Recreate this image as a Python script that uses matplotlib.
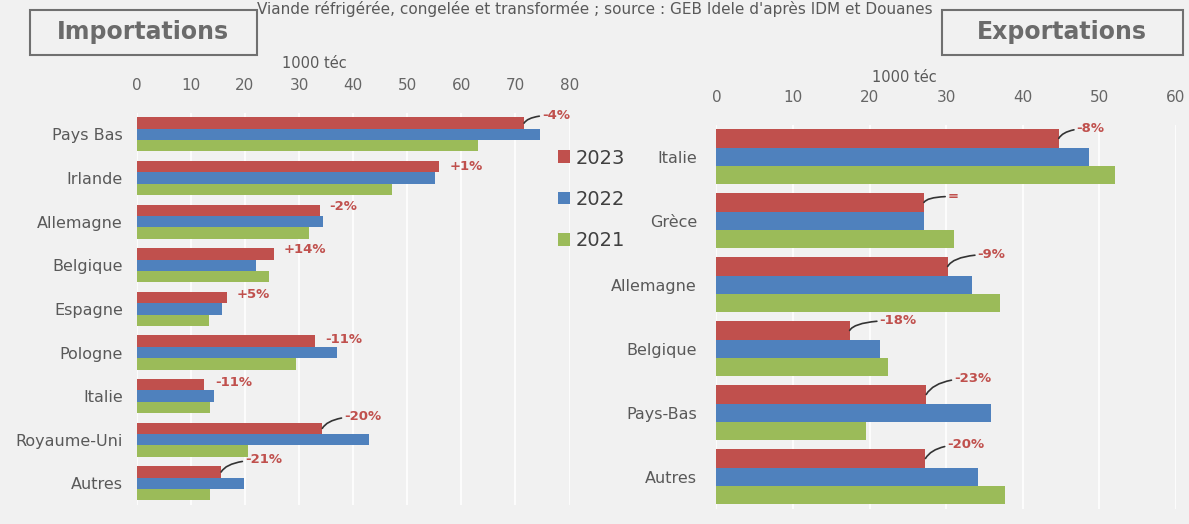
import matplotlib.pyplot as plt
from matplotlib.patches import Rectangle

# importations (1000 téc)
imp_pays = ['Pays Bas', 'Irlande', 'Allemagne', 'Belgique', 'Espagne',
            'Pologne', 'Italie', 'Royaume-Uni', 'Autres']
imp_2023 = [71.6, 55.8, 33.8, 25.3, 16.6, 33.0, 12.5, 34.3, 15.6]
imp_2022 = [74.6, 55.2, 34.4, 22.0, 15.8, 37.1, 14.2, 43.0, 19.8]
imp_2021 = [63.1, 47.2, 31.9, 24.5, 13.4, 29.4, 13.6, 20.5, 13.6]
imp_var = ['-4%', '+1%', '-2%', '+14%', '+5%', '-11%', '-11%', '-20%', '-21%']

# exportations (1000 téc)
exp_pays = ['Italie', 'Grèce', 'Allemagne', 'Belgique', 'Pays-Bas', 'Autres']
exp_2023 = [44.7, 27.1, 30.2, 17.4, 27.4, 27.3]
exp_2022 = [48.7, 27.1, 33.4, 21.3, 35.9, 34.2]
exp_2021 = [52.1, 31.0, 37.0, 22.4, 19.6, 37.7]
exp_var = ['-8%', '=', '-9%', '-18%', '-23%', '-20%']

annees = ['2023', '2022', '2021']
couleurs = ['#c0504d', '#4f81bd', '#9bbb59']
fond = '#f1f1f1'
gris = '#595959'

# decalage des etiquettes (pixels) et trait de rappel
imp_off = [(18, 8), (11, 0), (10, 4), (10, 4), (10, 3), (10, 2), (11, 2), (22, 12), (24, 12)]
imp_trait = [True, False, False, False, False, False, False, True, True]
exp_off = [(18, 10), (24, 6), (30, 12), (30, 10), (28, 16), (22, 14)]
exp_trait = [True, True, True, True, True, True]

fig = plt.figure(figsize=(11.89, 5.24), dpi=100)
fig.set_facecolor(fond)


def barres(ax, pays, series, var, off, trait, xmax, h, pad):
    ax.set_facecolor(fond)
    for k, vals in enumerate(series):
        ys = [i + (k - 1) * h for i in range(len(pays))]
        ax.barh(ys, vals, height=h, color=couleurs[k], label=annees[k], zorder=3)
    ax.set_xlim(0, xmax)
    ax.set_ylim(len(pays) - 0.5, -0.5)
    ax.set_yticks(range(len(pays)))
    ax.set_yticklabels(pays, fontsize=11.5, color=gris)
    ax.set_xticks(range(0, xmax + 1, 10))
    ax.xaxis.tick_top()
    ax.tick_params(axis='x', length=0, pad=14, labelsize=11, labelcolor='#666666')
    ax.tick_params(axis='y', length=0, pad=pad)
    ax.grid(True, axis='x', color='white', linewidth=1.2, zorder=0)
    for s in ax.spines.values():
        s.set_visible(False)
    for i, v in enumerate(series[0]):
        y = i - h
        props = None
        if trait[i]:
            props = dict(arrowstyle='-', color='#333333', lw=1.2,
                         connectionstyle='angle3,angleA=0,angleB=60', shrinkA=0, shrinkB=0)
        ax.annotate(var[i], xy=(v, y), xytext=off[i], textcoords='offset pixels',
                    ha='left', va='center', fontsize=9.5, fontweight='bold',
                    color='#c0504d', arrowprops=props, zorder=5)


ax1 = fig.add_axes([0.115, 0.036, 0.364, 0.749])
barres(ax1, imp_pays, [imp_2023, imp_2022, imp_2021], imp_var, imp_off, imp_trait, 80, 0.26, 10)

ax2 = fig.add_axes([0.6025, 0.029, 0.3865, 0.733])
barres(ax2, exp_pays, [exp_2023, exp_2022, exp_2021], exp_var, exp_off, exp_trait, 60, 0.286, 14)

fig.text(0.264, 0.878, '1000 téc', ha='center', va='center', fontsize=10.5, color=gris)
fig.text(0.761, 0.853, '1000 téc', ha='center', va='center', fontsize=10.5, color=gris)

h1, l1 = ax1.get_legend_handles_labels()
fig.legend(h1, l1, loc='upper left', bbox_to_anchor=(0.455, 0.75), frameon=False,
           fontsize=14, handlelength=0.6, handleheight=0.6, handletextpad=0.3,
           labelspacing=1.15, labelcolor='#404040')

# cadres des titres
for x0, w, titre in [(0.025, 0.191, 'Importations'), (0.792, 0.203, 'Exportations')]:
    fig.patches.append(Rectangle((x0, 0.895), w, 0.086, transform=fig.transFigure,
                                 facecolor=fond, edgecolor='#707070', lw=1.5))
    fig.text(x0 + w / 2, 0.938, titre, ha='center', va='center', fontsize=17,
             fontweight='bold', color='#6b6b6b')

fig.text(0.5, 0.999, "Viande réfrigérée, congelée et transformée ; source : GEB Idele d'après IDM et Douanes",
         ha='center', va='top', fontsize=11, color=gris)

plt.savefig('out.png', dpi=100, facecolor=fond)
